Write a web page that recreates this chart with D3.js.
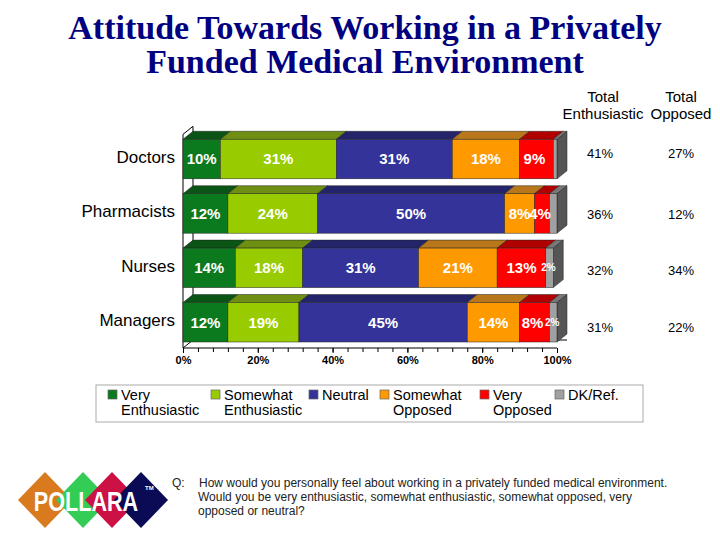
<!DOCTYPE html>
<html>
<head>
<meta charset="utf-8">
<script src="https://cdn.jsdelivr.net/npm/d3@7"></script>
<style>
  body { margin: 0; background: #fff; }
  svg { font-family: Arial, "Liberation Sans", sans-serif; }
</style>
</head>
<body>
<div id="chart"></div>
<script>
// data
var categories = ["Doctors", "Pharmacists", "Nurses", "Managers"];
var seriesNames = ["Very Enthusiastic", "Somewhat Enthusiastic", "Neutral", "Somewhat Opposed", "Very Opposed", "DK/Ref."];
var veryEnth = [10, 12, 14, 12];
var somewhatEnth = [31, 24, 18, 19];
var neutral = [31, 50, 31, 45];
var somewhatOpp = [18, 8, 21, 14];
var veryOpp = [9, 4, 13, 8];
var dkRef = [1, 2, 2, 2];
var dkLabels = ["", "", "2%", "2%"];
var totalEnth = ["41%", "36%", "32%", "31%"];
var totalOpp = ["27%", "12%", "34%", "22%"];
var tickLabels = [0, 20, 40, 60, 80, 100];

var frontColors = ["#0b7a1e", "#99cc00", "#333399", "#ff9900", "#ff0000", "#a0a0a0"];
var topColors = ["#0a5516", "#6f8f12", "#24246b", "#b8771a", "#b00000", "#787878"];
var legendLines = [["Very", "Enthusiastic"], ["Somewhat", "Enthusiastic"], ["Neutral"], ["Somewhat", "Opposed"], ["Very", "Opposed"], ["DK/Ref."]];

var width = 720, height = 540;
var svg = d3.select("#chart").append("svg")
  .attr("width", width)
  .attr("height", height);

// title
var title = svg.append("text")
  .attr("text-anchor", "middle")
  .attr("fill", "#000080")
  .style("font-family", "'Liberation Serif', 'Times New Roman', serif")
  .style("font-weight", "bold")
  .style("font-size", "34px");
title.append("tspan").attr("x", 365).attr("y", 39).text("Attitude Towards Working in a Privately");
title.append("tspan").attr("x", 365).attr("y", 73).text("Funded Medical Environment");

var x = d3.scaleLinear().domain([0, 100]).range([183, 557]);
var y = d3.scaleBand().domain(categories)
  .range([131.85, 349.45])
  .paddingInner(0.274)
  .paddingOuter(0.137);

var dx = 10, dy = -8;
var axisY = 348;

// walls / floor outline
var g = svg.append("g");
g.append("path")
  .attr("d", "M" + x(0) + "," + axisY + "L" + x(0) + "," + (y(categories[0]) - 5) +
    "L" + (x(0) + dx) + "," + (y(categories[0]) - 5 + dy) +
    "L" + (x(0) + dx) + "," + (axisY + dy))
  .attr("fill", "none").attr("stroke", "#000").attr("stroke-width", 1);
g.append("path")
  .attr("d", "M" + x(0) + "," + axisY + "L" + (x(0) + dx) + "," + (axisY + dy) +
    "L" + (x(100) + dx) + "," + (axisY + dy))
  .attr("fill", "none").attr("stroke", "#000").attr("stroke-width", 1);

// stack
var rows = categories.map(function(c, i) {
  return { cat: c, i: i, values: [veryEnth[i], somewhatEnth[i], neutral[i], somewhatOpp[i], veryOpp[i], dkRef[i]] };
});

rows.forEach(function(row) {
  var y0 = y(row.cat), bh = y.bandwidth();
  var start = 0;
  var segs = row.values.map(function(v, k) {
    var s = { k: k, v: v, a: start, b: start + v, label: k === 5 ? dkLabels[row.i] : v + "%" };
    start += v;
    return s;
  });
  var rg = g.append("g");
  // top faces
  rg.selectAll("path.top").data(segs).enter().append("path")
    .attr("class", "top")
    .attr("d", function(s) {
      return "M" + x(s.a) + "," + y0 + "L" + (x(s.a) + dx) + "," + (y0 + dy) +
        "L" + (x(s.b) + dx) + "," + (y0 + dy) + "L" + x(s.b) + "," + y0 + "Z";
    })
    .attr("fill", function(s) { return topColors[s.k]; })
    .attr("stroke", "#222").attr("stroke-width", 0.5);
  // right side face
  var last = segs[segs.length - 1];
  rg.append("path")
    .attr("d", "M" + x(last.b) + "," + y0 + "L" + (x(last.b) + dx) + "," + (y0 + dy) +
      "L" + (x(last.b) + dx) + "," + (y0 + bh + dy) + "L" + x(last.b) + "," + (y0 + bh) + "Z")
    .attr("fill", "#555").attr("stroke", "#222").attr("stroke-width", 0.5);
  // fronts
  rg.selectAll("rect").data(segs).enter().append("rect")
    .attr("x", function(s) { return x(s.a); })
    .attr("y", y0)
    .attr("width", function(s) { return x(s.b) - x(s.a); })
    .attr("height", bh)
    .attr("fill", function(s) { return frontColors[s.k]; })
    .attr("stroke", "#222").attr("stroke-width", 0.5);
  // labels
  rg.selectAll("text").data(segs.filter(function(s) { return s.label !== ""; })).enter().append("text")
    .attr("x", function(s) { return (x(s.a) + x(s.b)) / 2 + (s.k === 5 ? -1 : s.k === 4 && s.v < 10 ? -2 : 0); })
    .attr("y", y0 + bh / 2)
    .attr("dy", "0.36em")
    .attr("text-anchor", "middle")
    .attr("fill", "#fff")
    .style("font-weight", "bold")
    .style("font-size", function(s) { return s.k === 5 ? "10px" : "15px"; })
    .text(function(s) { return s.label; });
});

// category labels
svg.append("g").selectAll("text").data(categories).enter().append("text")
  .attr("x", 175)
  .attr("y", function(d) { return y(d) + y.bandwidth() / 2 - 2; })
  .attr("dy", "0.35em")
  .attr("text-anchor", "end")
  .style("font-size", "17px")
  .text(function(d) { return d; });

// axis
svg.append("g")
  .attr("transform", "translate(0," + axisY + ")")
  .call(d3.axisBottom(x).tickValues(d3.range(0, 101, 4)).tickSize(4).tickFormat(""))
  .call(function(a) { a.select(".domain").remove(); });
var ax = svg.append("g")
  .attr("transform", "translate(0," + axisY + ")")
  .call(d3.axisBottom(x).tickValues(tickLabels).tickSize(5).tickPadding(3)
    .tickFormat(function(d) { return d + "%"; }));
ax.select(".domain").attr("d", "M" + x(0) + ",0H" + x(100));
ax.selectAll("text")
  .attr("fill", "#000")
  .style("font-size", "11px")
  .style("font-weight", "bold")
  .style("font-family", "Arial, 'Liberation Sans', sans-serif");

// totals columns
var colX = [603, 681];
var hdr = svg.append("g").style("font-size", "15px");
hdr.append("text").attr("x", colX[0]).attr("y", 102).attr("text-anchor", "middle").text("Total");
hdr.append("text").attr("x", colX[0]).attr("y", 119).attr("text-anchor", "middle").text("Enthusiastic");
hdr.append("text").attr("x", colX[1]).attr("y", 102).attr("text-anchor", "middle").text("Total");
hdr.append("text").attr("x", colX[1]).attr("y", 119).attr("text-anchor", "middle").text("Opposed");

var totalsY = [153, 214, 270, 327];
svg.append("g").selectAll("text").data(totalEnth).enter().append("text")
  .attr("x", colX[0] - 3).attr("y", function(d, i) { return totalsY[i]; })
  .attr("dy", "0.35em").attr("text-anchor", "middle")
  .style("font-size", "13px").text(function(d) { return d; });
svg.append("g").selectAll("text").data(totalOpp).enter().append("text")
  .attr("x", colX[1]).attr("y", function(d, i) { return totalsY[i]; })
  .attr("dy", "0.35em").attr("text-anchor", "middle")
  .style("font-size", "13px").text(function(d) { return d; });

// legend
var lg = svg.append("g");
lg.append("rect").attr("x", 96).attr("y", 385).attr("width", 547).attr("height", 37)
  .attr("fill", "#fff").attr("stroke", "#aaa");
var legX = [108, 211, 309, 380, 480, 555];
var items = lg.selectAll("g.item").data(seriesNames).enter().append("g")
  .attr("class", "item")
  .attr("transform", function(d, i) { return "translate(" + legX[i] + ",0)"; });
items.append("rect").attr("x", 0).attr("y", 390).attr("width", 9).attr("height", 9)
  .attr("fill", function(d, i) { return frontColors[i]; })
  .attr("stroke", "#666").attr("stroke-width", 0.7);
items.each(function(d, i) {
  var t = d3.select(this).append("text").style("font-size", "14.5px");
  legendLines[i].forEach(function(line, j) {
    t.append("tspan").attr("x", 13).attr("y", 400 + j * 15).text(line);
  });
});

// question
var q = svg.append("g").style("font-size", "12px").attr("fill", "#222");
q.append("text").attr("x", 172).attr("y", 487).text("Q:");
var qLines = ["How would you personally feel about working in a privately funded medical environment.",
  "Would you be very enthusiastic, somewhat enthusiastic, somewhat opposed, very",
  "opposed or neutral?"];
q.selectAll("text.ql").data(qLines).enter().append("text")
  .attr("class", "ql")
  .attr("x", function(d, i) { return i === 0 ? 199 : 198; })
  .attr("y", function(d, i) { return 487 + i * 14; })
  .text(function(d) { return d; });

// logo
var logo = svg.append("g");
var diamonds = [[45, "#d97a1e"], [83, "#33cc55"], [112, "#cc1144"], [141, "#0a0a55"]];
logo.selectAll("path").data(diamonds).enter().append("path")
  .attr("d", function(d) {
    return "M" + (d[0] - 27) + ",500L" + d[0] + ",472L" + (d[0] + 27) + ",500L" + d[0] + ",528Z";
  })
  .attr("fill", function(d) { return d[1]; });
logo.append("text").attr("transform", "translate(86,511) scale(0.8,1)")
  .attr("text-anchor", "middle")
  .attr("fill", "#fff").style("font-weight", "bold").style("font-size", "27px")
  .style("font-family", "'Liberation Sans', Arial, sans-serif")
  .text("POLLARA");
logo.append("text").attr("x", 145).attr("y", 490).attr("fill", "#fff")
  .style("font-size", "6px").style("font-weight", "bold").text("TM");
</script>
</body>
</html>
